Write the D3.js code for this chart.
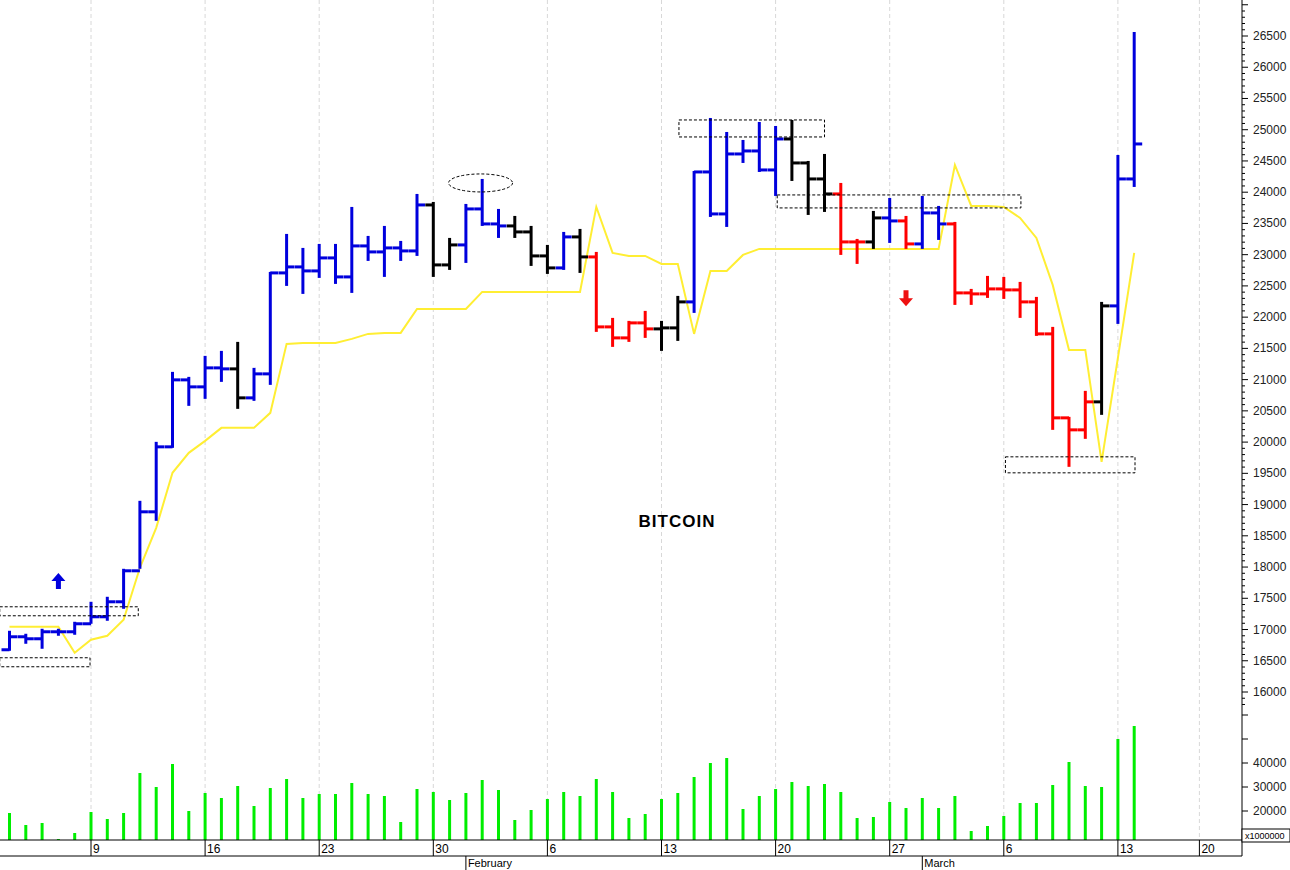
<!DOCTYPE html>
<html><head><meta charset="utf-8">
<script src="https://cdn.jsdelivr.net/npm/d3@7"></script>
<style>body{margin:0;background:#fff}svg{display:block}text{font-family:"Liberation Sans",Arial,sans-serif}</style>
</head><body><svg id="c" width="1290" height="870"></svg>
<script>
// daily bars, Jan 4 .. Mar 14
var opens = [16676];
var highs = [16964,16916,16996,16996,17108,17428,17508,17956,19044,19988,21108,21028,21364,21444,21588,21172,22708,23316,23092,23156,
  23156,23748,23284,23444,23204,23956,23828,23252,23796,24196,23716,23604,23444,23140,23348,23396,23028,21972,21924,22084,
  21924,22324,24324,25172,24948,24820,25108,25044,25140,24484,24596,24132,23236,23684,23892,23604,23924,23764,23508,22436,
  22644,22628,22548,22308,21828,20388,20804,22228,24580,26548];
var lows = [16676,16788,16708,16916,16932,17108,17156,17348,17988,18756,19924,20596,20708,20980,20548,20676,20932,22516,22388,22644,
  22548,22404,22916,22660,22916,22996,22660,22772,22884,23476,23284,23284,22836,22708,22772,22724,21780,21540,21620,21684,
  21476,21636,22084,23620,23460,24484,24340,23956,24196,23652,23700,23012,22868,23108,23204,23108,23108,23252,22212,22212,
  22324,22308,22004,21716,20212,19620,20068,20452,21908,24100];
var closes = [16884,16852,16964,16964,17092,17204,17444,17940,18884,19924,20996,20884,21188,21172,20708,21092,22708,22804,22740,22948,
  22644,23140,23044,23108,23060,23796,22836,23156,23732,23492,23460,23364,22980,22788,23284,22964,21844,21668,21908,21812,
  21828,22244,24324,23652,24612,24660,24356,24852,24468,24212,23972,23204,23204,23588,23540,23172,23668,23492,22388,22372,
  22452,22436,22244,21732,20388,20196,20644,22180,24212,24772];
var colours = "bbbbbbbbbbbbbbkbbbbbbbbbbbkkbbbkkkbkrrrrkkbbbbbbkkkrrkbrbbrrrrrrrrrkbb";
var signal = [17044,17044,17044,17044,16628,16836,16900,17156,17988,18628,19508,19828,20020,20228,20228,20228,20468,21572,21588,21588,
  21588,21652,21732,21748,21748,22132,22132,22132,22132,22404,22404,22404,22404,22404,22404,22404,23764,23028,22980,22980,
  22852,22852,21732,22740,22740,22996,23092,23092,23092,23092,23092,23092,23092,23092,23092,23092,23092,23092,24436,23780,
  23780,23764,23588,23268,22516,21476,21476,19684,21348,23028];
var volumes = [19170,14170,15000,8330,10830,19580,16670,19170,35830,30000,39580,20000,27500,25420,30420,22080,29580,33330,25420,27080,
  27080,31670,27080,26250,15420,29170,27920,24580,27500,32920,28750,16250,20420,25000,27920,26250,33330,27920,17080,18750,
  25000,27500,34170,40000,42080,20830,26250,29170,32080,30420,31250,27920,17080,17500,23750,21250,25420,21250,26250,11670,
  13750,17920,23330,23330,30830,40420,30420,30000,50000,55420];
var weekTicks = [["9",5],["16",12],["23",19],["30",26],["6",33],["13",40],["20",47],["27",54],["6",61],["13",68],["20",73]];
var months = [["February",28],["March",56]];
var priceTicks = d3.range(16000, 26501, 500);
var volTicks = [20000, 30000, 40000];
var boxes = [[-0.6,7.9,17364,17220],[-0.6,4.94,16548,16404],[41.07,50,25156,24884],[47.1,62.05,23956,23748],[61.1,69.05,19764,19508]];

for (var i = 1; i < closes.length; i++) opens.push(closes[i-1]);

var svg = d3.select("#c");
var x = d3.scaleLinear().domain([0, 69]).range([9.5, 1134.2]);
var y = d3.scaleLinear().domain([16000, 26500]).range([692, 36]);
var yv = d3.scaleLinear().domain([20000, 40000]).range([811, 763]);
var col = {b:"#0000dd", k:"#000", r:"#ff0000"};

// grid
svg.append("g").selectAll("line").data(weekTicks).join("line")
  .attr("x1", d => x(d[1])).attr("x2", d => x(d[1])).attr("y1", 0).attr("y2", 840)
  .attr("stroke", "#d8d8d8").attr("stroke-dasharray", "4,3");

// volume
svg.append("g").selectAll("line").data(volumes).join("line")
  .attr("x1", (d,i) => x(i)).attr("x2", (d,i) => x(i))
  .attr("y1", 840).attr("y2", d => yv(d))
  .attr("stroke", "#00ee00").attr("stroke-width", 3);

// signal line
svg.append("path").datum(signal)
  .attr("d", d3.line().x((d,i) => x(i)).y(d => y(d)))
  .attr("fill", "none").attr("stroke", "#ffee33").attr("stroke-width", 2);

// bars
var bars = svg.append("g").selectAll("g").data(closes).join("g")
  .attr("stroke", (d,i) => col[colours[i]]).attr("stroke-width", 3);
bars.append("line").attr("x1", (d,i) => x(i)).attr("x2", (d,i) => x(i))
  .attr("y1", (d,i) => y(highs[i]) - 1).attr("y2", (d,i) => y(lows[i]) + 1);
bars.append("line").attr("x1", (d,i) => x(i) - 8).attr("x2", (d,i) => x(i))
  .attr("y1", (d,i) => y(opens[i])).attr("y2", (d,i) => y(opens[i]));
bars.append("line").attr("x1", (d,i) => x(i)).attr("x2", (d,i) => x(i) + 8)
  .attr("y1", d => y(d)).attr("y2", d => y(d));

// annotations
svg.append("g").selectAll("rect").data(boxes).join("rect")
  .attr("x", d => x(d[0])).attr("width", d => x(d[1]) - x(d[0]))
  .attr("y", d => y(d[2])).attr("height", d => y(d[3]) - y(d[2]))
  .attr("fill", "none").attr("stroke", "#000").attr("stroke-dasharray", "3,2");
svg.append("ellipse").attr("cx", x(28.9)).attr("cy", y(24148)).attr("rx", 32).attr("ry", 9)
  .attr("fill", "none").attr("stroke", "#000").attr("stroke-dasharray", "3,2");
function arrow(cx, cy, up, c) {
  var s = up ? -1 : 1;
  svg.append("path").attr("fill", c)
    .attr("d", "M" + cx + "," + (cy + s*9) + " L" + (cx-7) + "," + (cy + s*1) + " L" + (cx-2.5) + "," + (cy+s*1) +
      " L" + (cx-2.5) + "," + (cy - s*7) + " L" + (cx+2.5) + "," + (cy - s*7) + " L" + (cx+2.5) + "," + (cy+s*1) +
      " L" + (cx+7) + "," + (cy+s*1) + "Z");
}
arrow(x(3), y(17760), true, "#0000dd");
arrow(x(55), y(22320), false, "#ee1111");
svg.append("text").attr("x", 677).attr("y", 527).attr("text-anchor", "middle")
  .attr("font-size", 17).attr("font-weight", "bold").attr("letter-spacing", 1).text("BITCOIN");

// right axis
var ax = svg.append("g").attr("transform", "translate(1242,0)");
ax.append("line").attr("y1", 0).attr("y2", 856).attr("stroke", "#000");
ax.selectAll("line.m").data(d3.range(14200, 27101, 100).filter(v => y(v) >= 0 && y(v) < 705)).join("line")
  .attr("class", "m").attr("x2", v => v % 500 === 0 ? 6 : 3).attr("y1", v => y(v)).attr("y2", v => y(v)).attr("stroke", "#000");
ax.selectAll("text.p").data(priceTicks).join("text").attr("class", "p")
  .attr("x", 11).attr("y", v => y(v) + 4).attr("font-size", 12).attr("fill", "#222").text(v => v);
ax.selectAll("line.v").data(d3.range(20000, 60001, 10000)).join("line").attr("class", "v")
  .attr("x2", 6).attr("y1", v => yv(v)).attr("y2", v => yv(v)).attr("stroke", "#000");
ax.selectAll("text.v").data(volTicks).join("text").attr("class", "v")
  .attr("x", 11).attr("y", v => yv(v) + 4).attr("font-size", 12).attr("fill", "#222").text(v => v);
ax.append("rect").attr("x", 0).attr("y", 829).attr("width", 48).attr("height", 13)
  .attr("fill", "#fff").attr("stroke", "#000");
ax.append("text").attr("x", 3).attr("y", 839).attr("font-size", 9).text("x1000000");

// bottom axis
var bx = svg.append("g");
bx.append("line").attr("x1", 0).attr("x2", 1242).attr("y1", 840).attr("y2", 840).attr("stroke", "#000");
bx.append("line").attr("x1", 0).attr("x2", 1242).attr("y1", 856).attr("y2", 856).attr("stroke", "#000");
bx.selectAll("line.t").data(weekTicks).join("line").attr("class", "t")
  .attr("x1", d => x(d[1])).attr("x2", d => x(d[1])).attr("y1", 840).attr("y2", 856).attr("stroke", "#000");
bx.selectAll("text.t").data(weekTicks).join("text").attr("class", "t")
  .attr("x", d => x(d[1]) + 2).attr("y", 853).attr("font-size", 12).text(d => d[0]);
bx.selectAll("line.mo").data(months).join("line").attr("class", "mo")
  .attr("x1", d => x(d[1])).attr("x2", d => x(d[1])).attr("y1", 856).attr("y2", 870).attr("stroke", "#000");
bx.selectAll("text.mo").data(months).join("text").attr("class", "mo")
  .attr("x", d => x(d[1]) + 2).attr("y", 867).attr("font-size", 11).text(d => d[0]);
</script></body></html>
